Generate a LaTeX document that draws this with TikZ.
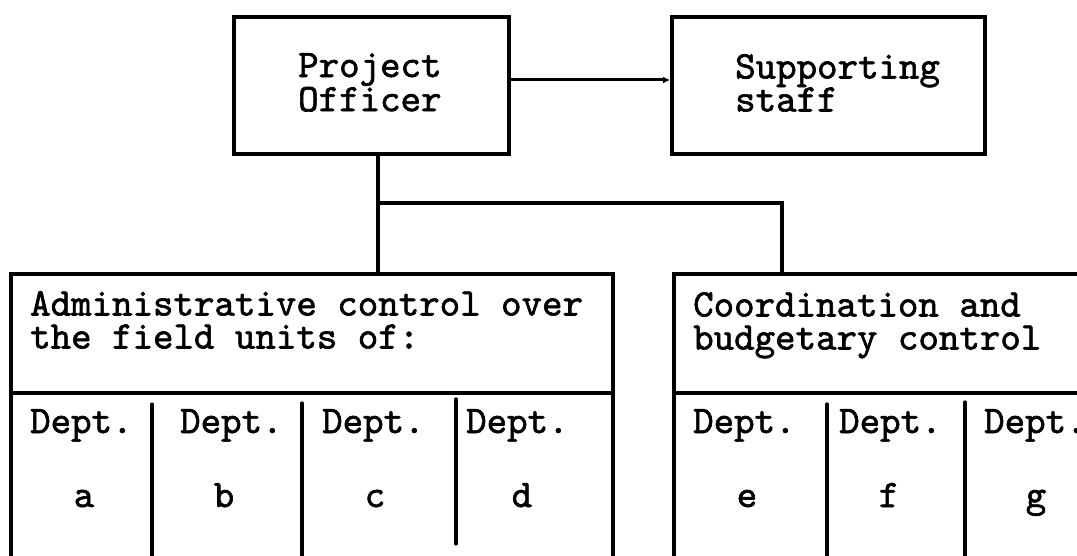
\documentclass[tikz,border=0pt]{standalone}
\usepackage{fontspec}
\newfontfamily\twfont[FakeBold=1.6]{lmmono10-regular.otf}
\usetikzlibrary{arrows.meta}
\begin{document}
\begin{tikzpicture}[x=1pt,y=-1pt,
  box/.style={draw, line width=3.6pt, inner sep=0pt, anchor=north west},
  line/.style={draw, line width=3.4pt},
  col/.style={draw, line width=3.2pt, line cap=round},
  txt/.style={font=\twfont\bfseries\fontsize{39}{33}\selectfont, inner sep=0pt, anchor=base west},
  blk/.style={font=\twfont\bfseries\fontsize{39}{33}\selectfont, inner sep=0pt, anchor=north west, align=left},
  lbl/.style={font=\twfont\bfseries\fontsize{39}{33}\selectfont, inner sep=0pt, anchor=base}]
\useasboundingbox (0,0) rectangle (1077,556);
\clip (0,0) rectangle (1077,556);
\fill[white] (0,0) rectangle (1077,556);
% top boxes
\node[box, minimum width=275pt, minimum height=137pt] (po) at (232,15) {};
\node[box, minimum width=313pt, minimum height=137pt] (ss) at (670,15) {};
\node[blk] (pot) at (298,53) {Project\\Officer};
\node[blk] (sst) at (735,54) {Supporting\\staff};
% big boxes
\node[box, minimum width=602pt, minimum height=320pt] (lb) at (9,272) {};
\node[box, minimum width=480pt, minimum height=320pt] (rb) at (672,272) {};
\coordinate (lh) at (0,393);
\draw[line] (lb.west |- lh) -- (lb.east |- lh);
\draw[line] (rb.west |- lh) -- (rb.east |- lh);
\node[blk] (at) at (30,291) {Administrative control over\\the field units of:};
\node[blk] (ct) at (693,292) {Coordination and\\budgetary control};
% column dividers
\coordinate (d1) at (152,404);
\coordinate (d2) at (302,403);
\coordinate (d3) at (456,399);
\coordinate (d4) at (827,404);
\coordinate (d5) at (965,402);
\coordinate (bot) at (0,570);
\coordinate (bot3) at (0,544);
\draw[col] (d1) -- (d1 |- bot);
\draw[col] (d2) -- (d2 |- bot);
\draw[col] (d3) -- (d3 |- bot3);
\draw[col] (d4) -- (d4 |- bot);
\draw[col] (d5) -- (d5 |- bot);
% Dept. labels
\node[txt] (ta) at (30,433) {Dept.};
\node[txt] (tb) at (180,433) {Dept.};
\node[txt] (tc) at (322,433) {Dept.};
\node[txt] (td) at (466,433) {Dept.};
\node[txt] (te) at (693,433) {Dept.};
\node[txt] (tf) at (839,433) {Dept.};
\node[txt] (tg) at (984,433) {Dept.};
\node[lbl] (la) at (84,507) {a};
\node[lbl] (lb2) at (224,507) {b};
\node[lbl] (lc) at (375,507) {c};
\node[lbl] (ld) at (522,507) {d};
\node[lbl] (le) at (747,507) {e};
\node[lbl] (lf) at (889,507) {f};
\node[lbl] (lg) at (1036,507) {g};
% connectors
\coordinate (hy) at (0,80);
\draw[line width=3pt, -{Latex[length=7pt,width=7pt]}] (po.east |- hy) -- (ss.west |- hy);
\coordinate (ja) at (378,203);
\coordinate (jb) at (782,203);
\draw[line] (po.south -| ja) -- (lb.north -| ja);
\draw[line] (ja) -- (jb) -- (rb.north -| jb);
\end{tikzpicture}
\end{document}
